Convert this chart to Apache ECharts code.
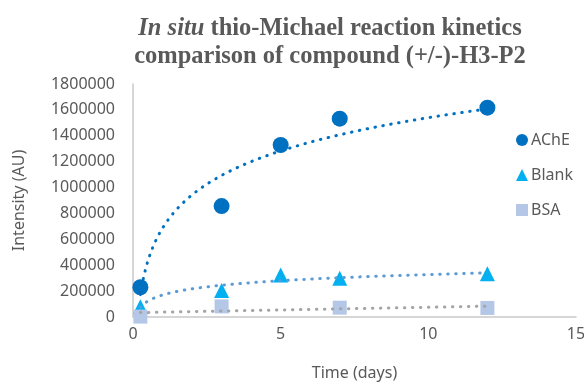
<!DOCTYPE html>
<html>
<head>
<meta charset="utf-8">
<script src="https://cdn.jsdelivr.net/npm/echarts@6/dist/echarts.min.js"></script>
<style>
html,body{margin:0;padding:0;background:#fff;}
#chart{width:584px;height:383px;}
</style>
</head>
<body>
<div id="chart"></div>
<script>
// ---- data ----
var seriesNames = ['AChE', 'Blank', 'BSA'];
var acheDays = [0.25, 3, 5, 7, 12];
var acheValues = [230000, 857000, 1329000, 1532000, 1617000];
var blankDays = [0.25, 3, 5, 7, 12];
var blankValues = [80000, 205000, 325000, 300000, 335000];
var bsaDays = [0.25, 3, 7, 12];
var bsaValues = [3000, 82000, 72000, 70000];
var xTicks = [0, 5, 10, 15];
var yTicks = [0, 200000, 400000, 600000, 800000, 1000000, 1200000, 1400000, 1600000, 1800000];

function pairs(xs, ys) { return xs.map(function (x, i) { return [x, ys[i]]; }); }

// least-squares trendlines (as the spreadsheet does), evaluated along the data span
function fitTrend(xs, ys, useLog) {
  var tx = xs.map(function (x) { return useLog ? Math.log(x) : x; });
  var n = xs.length, mx = 0, my = 0;
  for (var i = 0; i < n; i++) { mx += tx[i]; my += ys[i]; }
  mx /= n; my /= n;
  var sxy = 0, sxx = 0;
  for (i = 0; i < n; i++) { sxy += (tx[i] - mx) * (ys[i] - my); sxx += (tx[i] - mx) * (tx[i] - mx); }
  var b = sxy / sxx, a = my - b * mx;
  var x0 = xs[0], x1 = xs[n - 1], out = [];
  for (var k = 0; k <= 200; k++) {
    var x = x0 + (x1 - x0) * k / 200;
    out.push([x, a + b * (useLog ? Math.log(x) : x)]);
  }
  return out;
}

var labelFont = 'Noto Sans';
var textColor = '#595959';
var axisColor = '#C9C9C9';
var dotStyle = function (c) { return { color: c, width: 3, type: [0.5, 7.5], cap: 'round' }; };

var chart = echarts.init(document.getElementById('chart'), null, { renderer: 'canvas' });
chart.setOption({
  animation: false,
  backgroundColor: '#ffffff',
  title: {
    text: '{i|In situ} thio-Michael reaction kinetics\ncomparison of compound (+/-)-H3-P2',
    left: 325,
    textAlign: 'center',
    top: 10,
    textStyle: {
      fontFamily: 'Liberation Serif',
      fontWeight: 'bold',
      fontSize: 24.5,
      color: textColor,
      lineHeight: 28,
      rich: {
        i: { fontFamily: 'Liberation Serif', fontWeight: 'bold', fontStyle: 'italic', fontSize: 24.5, color: textColor, lineHeight: 28 }
      }
    }
  },
  legend: {
    data: seriesNames,
    orient: 'vertical',
    left: 511,
    top: 127,
    itemWidth: 12,
    itemHeight: 12,
    itemGap: 19,
    textStyle: { fontFamily: labelFont, fontSize: 16, color: textColor, padding: [0, 0, 0, -2] }
  },
  grid: { left: 133, right: 8, top: 84, bottom: 66, containLabel: false, outerBoundsMode: 'none' },
  xAxis: {
    type: 'value',
    min: xTicks[0],
    max: xTicks[xTicks.length - 1],
    interval: xTicks[1] - xTicks[0],
    name: 'Time (days)',
    nameLocation: 'middle',
    nameGap: 48,
    nameTextStyle: { fontFamily: labelFont, fontSize: 16, color: textColor },
    axisLine: { show: true, lineStyle: { color: axisColor, width: 1.5 } },
    axisTick: { show: false },
    splitLine: { show: false },
    axisLabel: { fontFamily: labelFont, fontSize: 16, color: textColor, margin: 9 }
  },
  yAxis: {
    type: 'value',
    min: yTicks[0],
    max: yTicks[yTicks.length - 1],
    interval: yTicks[1] - yTicks[0],
    name: 'Intensity (AU)',
    nameLocation: 'middle',
    nameGap: 106,
    nameTextStyle: { fontFamily: labelFont, fontSize: 16, color: textColor },
    axisLine: { show: true, lineStyle: { color: axisColor, width: 1.5 } },
    axisTick: { show: false },
    splitLine: { show: false },
    axisLabel: {
      fontFamily: labelFont, fontSize: 16, color: textColor, margin: 18,
      formatter: function (v) { return String(v); }
    }
  },
  series: [
    {
      name: 'AChE', type: 'scatter', symbol: 'circle', symbolSize: 16,
      itemStyle: { color: '#0070C0', opacity: 1 }, z: 3,
      data: pairs(acheDays, acheValues)
    },
    {
      name: 'Blank', type: 'scatter', symbol: 'triangle', symbolSize: 15,
      itemStyle: { color: '#00B0F0', opacity: 1 }, z: 3,
      data: pairs(blankDays, blankValues)
    },
    {
      name: 'BSA', type: 'scatter', symbol: 'rect', symbolSize: 14,
      itemStyle: { color: '#B4C7E7', opacity: 1 }, z: 3,
      data: pairs(bsaDays, bsaValues)
    },
    {
      name: 'AChE trend', type: 'line', showSymbol: false, smooth: false, z: 4,
      lineStyle: dotStyle('#0070C0'), data: fitTrend(acheDays, acheValues, true)
    },
    {
      name: 'Blank trend', type: 'line', showSymbol: false, smooth: false, z: 4,
      lineStyle: dotStyle('#5B9BD5'), data: fitTrend(blankDays, blankValues, true)
    },
    {
      name: 'BSA trend', type: 'line', showSymbol: false, smooth: false, z: 4,
      lineStyle: dotStyle('#A5A5A5'), data: fitTrend(bsaDays, bsaValues, false)
    }
  ]
});
</script>
</body>
</html>
